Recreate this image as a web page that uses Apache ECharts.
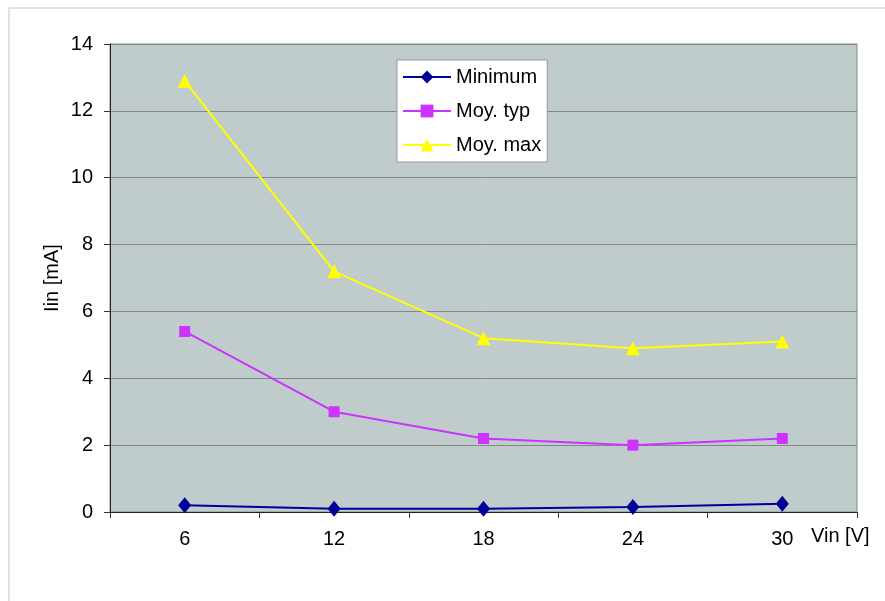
<!DOCTYPE html>
<html>
<head>
<meta charset="utf-8">
<script src="https://cdn.jsdelivr.net/npm/echarts@6/dist/echarts.min.js"></script>
<style>
html,body{margin:0;padding:0;background:#fff;}
#c{width:885px;height:601px;}
</style>
</head>
<body>
<div id="c"></div>
<script>
var categories = ['6', '12', '18', '24', '30'];
var minimum = [0.2, 0.1, 0.1, 0.15, 0.25];
var moyTyp = [5.4, 3.0, 2.2, 2.0, 2.2];
var moyMax = [12.9, 7.2, 5.2, 4.9, 5.1];
var seriesNames = ['Minimum', 'Moy. typ', 'Moy. max'];

var chart = echarts.init(document.getElementById('c'));
var font = 'Liberation Sans, Arial, sans-serif';
chart.setOption({
  animation: false,
  textStyle: {fontFamily: font},
  graphic: [
    {type: 'rect', shape: {x: 9, y: 8, width: 900, height: 620}, style: {fill: 'none', stroke: '#d8d8d8', lineWidth: 1.5}, z: -1},
    {type: 'text', left: 811, top: 526, style: {text: 'Vin [V]', fontSize: 20, fontFamily: font, fill: '#000'}}
  ],
  grid: {left: 110, right: 28, top: 44, bottom: 89, show: true, backgroundColor: '#c0cccc', borderColor: '#7a8a8a', borderWidth: 1},
  legend: {
    orient: 'vertical', left: 397, top: 60, padding: [7, 6, 7, 5],
    backgroundColor: '#fff', borderColor: '#999', borderWidth: 1,
    itemWidth: 48, itemHeight: 16, itemGap: 14,
    textStyle: {fontSize: 20, fontFamily: font, color: '#000'},
    data: seriesNames
  },
  xAxis: {
    type: 'category', data: categories, boundaryGap: true,
    axisLine: {lineStyle: {color: '#222', width: 1}},
    axisTick: {show: true, inside: false, length: 6, lineStyle: {color: '#333'}},
    axisLabel: {fontSize: 20, color: '#000', margin: 17, fontFamily: font},
    splitLine: {show: false}
  },
  yAxis: {
    type: 'value', min: 0, max: 14, interval: 2,
    name: 'Iin [mA]', nameLocation: 'middle', nameGap: 48, nameRotate: 90, nameMoveOverlap: false,
    nameTextStyle: {fontSize: 20, color: '#000', fontFamily: font},
    axisLine: {show: true, lineStyle: {color: '#222', width: 1}},
    axisTick: {show: true, inside: false, length: 6, lineStyle: {color: '#333'}},
    axisLabel: {fontSize: 20, color: '#000', margin: 17, fontFamily: font},
    splitLine: {show: true, lineStyle: {color: '#808888', width: 1}}
  },
  series: [
    {name: seriesNames[0], type: 'line', data: minimum, symbol: 'diamond', symbolSize: [13, 16],
     itemStyle: {color: '#000099'}, lineStyle: {color: '#000099', width: 2}},
    {name: seriesNames[1], type: 'line', data: moyTyp, symbol: 'rect', symbolSize: 11,
     itemStyle: {color: '#cc33ff'}, lineStyle: {color: '#cc33ff', width: 2}},
    {name: seriesNames[2], type: 'line', data: moyMax, symbol: 'triangle', symbolSize: 14,
     itemStyle: {color: '#ffff00'}, lineStyle: {color: '#ffff00', width: 2}}
  ]
});
</script>
</body>
</html>
